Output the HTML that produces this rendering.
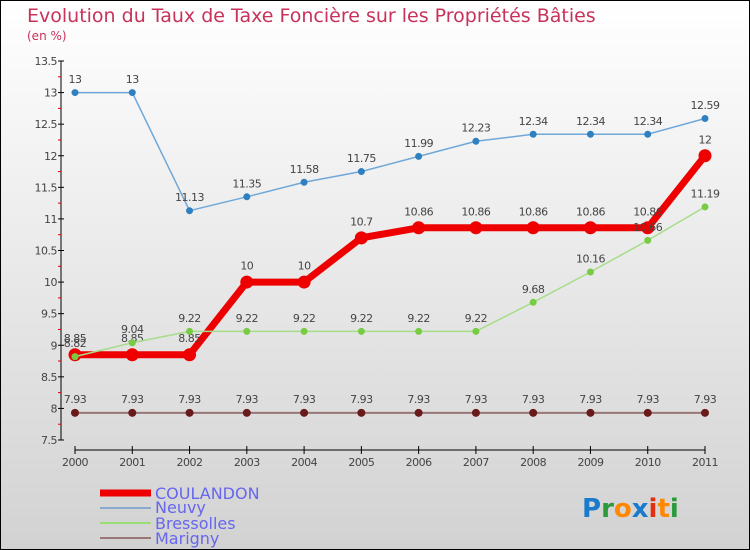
<!DOCTYPE html>
<html><head><meta charset="utf-8"><style>
body{margin:0;}
svg{display:block;font-family:"DejaVu Sans","Liberation Sans",sans-serif;}
</style></head><body>
<svg id="c" width="750" height="550" viewBox="0 0 750 550">
<defs><linearGradient id="bg" x1="0" y1="0" x2="0" y2="1"><stop offset="0" stop-color="#ffffff"/><stop offset="1" stop-color="#d2d2d2"/></linearGradient></defs>
<rect x="0.5" y="0.5" width="749" height="549" fill="url(#bg)" stroke="#000"/>
<text x="27" y="22" font-size="19" fill="#c8325a">Evolution du Taux de Taxe Foncière sur les Propriétés Bâties</text>
<text x="27" y="40" font-size="12" fill="#c8325a">(en %)</text>
<g id="axes"></g><g id="series"></g>
<g>
<line x1="100" y1="493" x2="151" y2="493" stroke="#e00" stroke-width="7"/>
<text x="155" y="499" font-size="16" fill="#6666ee">COULANDON</text>
<line x1="100" y1="508" x2="151" y2="508" stroke="#88aacc" stroke-width="2"/>
<text x="155" y="513" font-size="16" fill="#6666ee">Neuvy</text>
<line x1="100" y1="523" x2="151" y2="523" stroke="#99dd77" stroke-width="2"/>
<text x="155" y="529" font-size="16" fill="#6666ee">Bressolles</text>
<line x1="100" y1="538" x2="151" y2="538" stroke="#997777" stroke-width="2"/>
<text x="155" y="544" font-size="16" fill="#6666ee">Marigny</text>
</g>
<text x="582" y="517" font-size="26" font-weight="bold"><tspan fill="#1a7acc">P</tspan><tspan fill="#2a9a3a">r</tspan><tspan fill="#ff8800">o</tspan><tspan fill="#1a7acc">x</tspan><tspan fill="#e03010">i</tspan><tspan fill="#ff8800">t</tspan><tspan fill="#2a9a3a">i</tspan></text>
</svg>
<script>
const years=["2000","2001","2002","2003","2004","2005","2006","2007","2008","2009","2010","2011"];
const yTicks=[7.5,8,8.5,9,9.5,10,10.5,11,11.5,12,12.5,13,13.5];
const yTickLabels=["7.5","8","8.5","9","9.5","10","10.5","11","11.5","12","12.5","13","13.5"];
const coulandon=[8.85,8.85,8.85,10,10,10.7,10.86,10.86,10.86,10.86,10.86,12];
const neuvy=[13,13,11.13,11.35,11.58,11.75,11.99,12.23,12.34,12.34,12.34,12.59];
const bressolles=[8.82,9.04,9.22,9.22,9.22,9.22,9.22,9.22,9.68,10.16,10.66,11.19];
const marigny=[7.93,7.93,7.93,7.93,7.93,7.93,7.93,7.93,7.93,7.93,7.93,7.93];
const NS="http://www.w3.org/2000/svg";
const X=i=>75+i*(630/11);
const Y=v=>440-(v-7.5)*(379/6);
function mk(p,t,a){const e=document.createElementNS(NS,t);for(const k in a)e.setAttribute(k,a[k]);p.appendChild(e);return e;}
const ax=document.getElementById('axes');
let l=mk(ax,'line',{x1:61,y1:Y(13.5),x2:61,y2:Y(7.5),stroke:'#000'});

l=mk(ax,'line',{x1:75,y1:450,x2:705,y2:450,stroke:'#000'});

yTicks.forEach((v,i)=>{
 mk(ax,'line',{x1:58,y1:Y(v),x2:64,y2:Y(v),stroke:'#000'});
 if(i<yTicks.length-1) mk(ax,'line',{x1:58,y1:Y(v+0.25),x2:61,y2:Y(v+0.25),stroke:'#d00'});
 const t=mk(ax,'text',{x:57,y:Y(v)+4,'font-size':11,'text-anchor':'end',fill:'#444','letter-spacing':'-0.5'});
 t.textContent=yTickLabels[i];
 
});
years.forEach((y,i)=>{
 mk(ax,'line',{x1:X(i),y1:446,x2:X(i),y2:454,stroke:'#000'});
 const t=mk(ax,'text',{x:X(i),y:466,'font-size':11,'text-anchor':'middle',fill:'#444','letter-spacing':'-0.5'});
 t.textContent=y;
 
});
const sg=document.getElementById('series');
function series(name,vals,color,w,r,dot){
 const g=mk(sg,'g',{});
 
 const p=mk(g,'polyline',{points:vals.map((v,i)=>X(i)+','+Y(v)).join(' '),fill:'none',stroke:color,'stroke-width':w,'stroke-linejoin':'round'});
 
 vals.forEach((v,i)=>{
  const c=mk(g,'circle',{cx:X(i),cy:Y(v),r:r,fill:dot});
  
  const t=mk(g,'text',{x:X(i),y:Y(v)-(r+6),'font-size':11,'text-anchor':'middle',fill:'#444','letter-spacing':'-0.5'});
  t.textContent=String(v);
  
 });
}
series('marigny',marigny,'#997777',2,4,'#6a1a1a');
series('neuvy',neuvy,'#6fa8d8',1.5,3.5,'#2f80c0');
series('coulandon',coulandon,'#ee0000',7,6.5,'#ee0000');
series('bressolles',bressolles,'#a6dd88',1.5,3.5,'#77cc44');
</script>
</body></html>
